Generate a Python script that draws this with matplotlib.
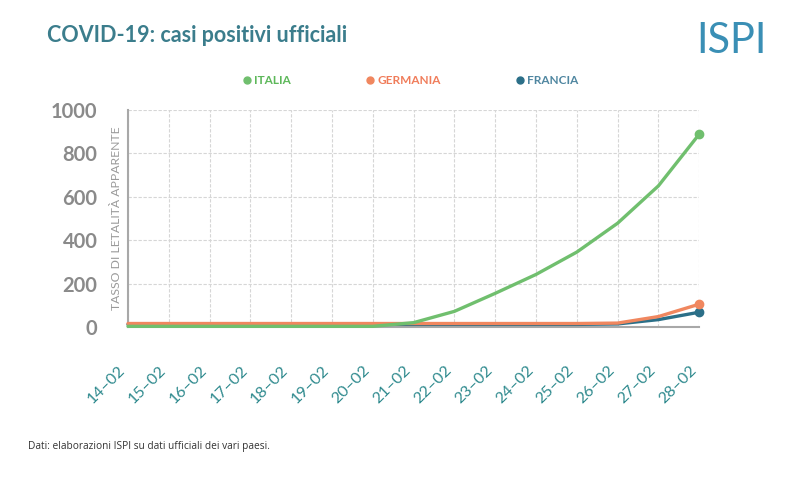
import matplotlib.pyplot as plt
from matplotlib.lines import Line2D

dates = ["14–02", "15–02", "16–02", "17–02", "18–02", "19–02", "20–02", "21–02",
         "22–02", "23–02", "24–02", "25–02", "26–02", "27–02", "28–02"]
italia = [3, 3, 3, 3, 3, 3, 3, 20, 72, 155, 242, 345, 478, 650, 888]
germania = [16, 16, 16, 16, 16, 16, 16, 16, 16, 16, 16, 16, 18, 48, 105]
francia = [12, 12, 12, 12, 12, 12, 12, 12, 12, 12, 12, 12, 14, 34, 68]
yticks = [0, 200, 400, 600, 800, 1000]

C_IT = "#70bf6e"
C_DE = "#f0875f"
C_FR = "#2b6f88"
TEAL = "#3b7d8c"

plt.rcParams["font.family"] = ["Lato", "DejaVu Sans"]

fig = plt.figure(figsize=(8, 4.82), dpi=100)
ax = fig.add_axes([0.16, 0.3216, 0.714, 0.4504])

x = list(range(len(dates)))
lw = 2.4
ax.plot(x, francia, color=C_FR, lw=lw, marker="o", markevery=[-1], ms=6,
        clip_on=False, zorder=3, solid_capstyle="round")
ax.plot(x, germania, color=C_DE, lw=lw, marker="o", markevery=[-1], ms=6,
        clip_on=False, zorder=4, solid_capstyle="round")
ax.plot(x, italia, color=C_IT, lw=lw, marker="o", markevery=[-1], ms=6,
        clip_on=False, zorder=5, solid_capstyle="round")

ax.set_xlim(0, len(dates) - 1)
ax.set_ylim(0, 1000)
ax.set_xticks(x)
ax.set_xticklabels(dates, rotation=45, ha="right", va="top",
                   color="#2f8a8e", fontsize=11.5)
ax.set_yticks(yticks)
ax.set_yticklabels([str(v) for v in yticks], fontweight="bold",
                   color="#8a8a8a", fontsize=14.5)
ax.tick_params(axis="y", length=0, pad=22)
ax.tick_params(axis="x", length=0, pad=26)

ax.grid(True, color="#d6d6d6", lw=0.8, linestyle=(0, (3, 1.5)))
ax.set_axisbelow(True)
for s in ["top", "right"]:
    ax.spines[s].set_visible(False)
for s in ["left", "bottom"]:
    ax.spines[s].set_color("#a8a8a8")
    ax.spines[s].set_linewidth(1.5)

ax.set_ylabel("TASSO DI LETALITÀ APPARENTE", fontsize=8.8, color="#9a9a9a")
ax.yaxis.set_label_coords(-0.01, 0.5)

# title and logo
fig.text(0.059, 0.927, "COVID-19: casi positivi ufficiali", fontsize=15.5,
         fontweight="bold", color=TEAL, va="center")
fig.text(0.958, 0.915, "ISPI", fontsize=30, fontweight="normal",
         color="#3a8fb5", va="center", ha="right")

# legend
handles = [Line2D([], [], ls="none", marker="o", ms=5, color=c)
           for c in (C_IT, C_DE, C_FR)]
leg = fig.legend(handles, ["ITALIA", "GERMANIA", "FRANCIA"], ncol=3,
                 loc="center", bbox_to_anchor=(0.514, 0.832), frameon=False,
                 handlelength=0.5, handletextpad=0.35, columnspacing=6.5,
                 prop={"size": 8.5, "weight": "bold"},
                 labelcolor=["#5db85a", "#f07c5a", "#4f86a0"])

fig.text(0.035, 0.074, "Dati: elaborazioni ISPI su dati ufficiali dei vari paesi.",
         fontsize=7.3, color="#333333", family=["Open Sans", "DejaVu Sans"],
         va="center")

fig.savefig("out.png", dpi=100, facecolor="white")
